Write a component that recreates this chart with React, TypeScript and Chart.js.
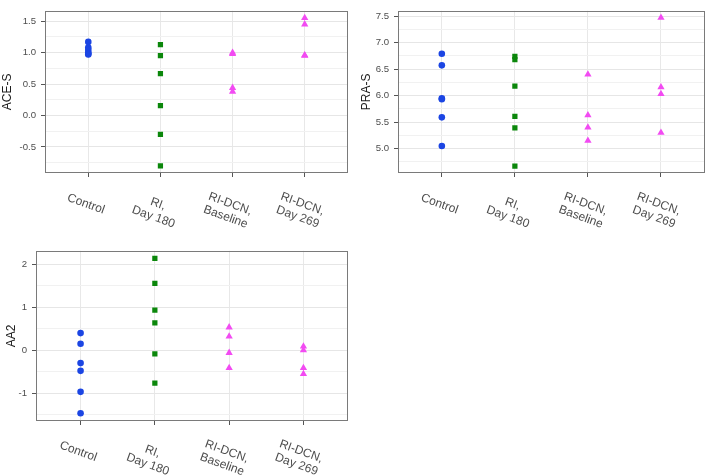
import React, { useEffect, useRef } from 'react';
import { Chart, registerables } from 'chart.js';

Chart.register(...registerables);

// ---------- data ----------
const categories: string[][] = [
  ['Control'],
  ['RI,', 'Day 180'],
  ['RI-DCN,', 'Baseline'],
  ['RI-DCN,', 'Day 269'],
];

// ACE-S
const aceControl = [1.17, 1.08, 1.04, 1.0, 0.98, 0.97];
const aceRI = [1.125, 0.95, 0.665, 0.155, -0.3, -0.8];
const aceBaseline = [1.0, 0.98, 0.44, 0.38];
const aceDay269 = [1.55, 1.45, 0.96, 0.95];
const aceMajor = [-0.5, 0, 0.5, 1, 1.5];
const aceMajorLabels = ['-0.5', '0.0', '0.5', '1.0', '1.5'];
const aceMinor = [-0.75, -0.25, 0.25, 0.75, 1.25];

// PRA-S
const praControl = [6.79, 6.57, 5.95, 5.93, 5.59, 5.05];
const praRI = [6.74, 6.68, 6.18, 5.61, 5.39, 4.67];
const praBaseline = [6.4, 5.63, 5.4, 5.15];
const praDay269 = [7.47, 6.16, 6.03, 5.3];
const praMajor = [5, 5.5, 6, 6.5, 7, 7.5];
const praMajorLabels = ['5.0', '5.5', '6.0', '6.5', '7.0', '7.5'];
const praMinor = [4.75, 5.25, 5.75, 6.25, 6.75, 7.25];

// AA2
const aaControl = [0.4, 0.15, -0.3, -0.48, -0.97, -1.47];
const aaRI = [2.14, 1.56, 0.935, 0.64, -0.085, -0.765];
const aaBaseline = [0.535, 0.32, -0.06, -0.41];
const aaDay269 = [0.09, 0.0, -0.41, -0.55];
const aaMajor = [-1, 0, 1, 2];
const aaMajorLabels = ['-1', '0', '1', '2'];
const aaMinor = [-1.5, -0.5, 0.5, 1.5];

// ---------- styles ----------
const FONT = '"Liberation Sans", Arial, Helvetica, sans-serif';
const groupStyles = [
  { pointStyle: 'circle', radius: 3.3, color: '#1B45E3' },
  { pointStyle: 'rect', radius: 3.7, color: '#0B870B' },
  { pointStyle: 'triangle', radius: 4.2, color: '#F24BF2' },
  { pointStyle: 'triangle', radius: 4.2, color: '#F24BF2' },
];

type PanelDef = {
  title: string;
  groups: number[][];
  min: number;
  max: number;
  major: number[];
  majorLabels: string[];
  minor: number[];
  box: { left: number; top: number; width: number; height: number };
  yWidth: number;
  xHeight: number;
  padTop: number;
  padRight: number;
  titlePad: number;
  labelOffset: number;
};

const panels: PanelDef[] = [
  {
    title: 'ACE-S',
    groups: [aceControl, aceRI, aceBaseline, aceDay269],
    min: -0.915,
    max: 1.665,
    major: aceMajor,
    majorLabels: aceMajorLabels,
    minor: aceMinor,
    box: { left: 0, top: 0, width: 355, height: 240 },
    yWidth: 45,
    xHeight: 67,
    padTop: 2,
    padRight: 7,
    titlePad: 0.6,
    labelOffset: 24.5,
  },
  {
    title: 'PRA-S',
    groups: [praControl, praRI, praBaseline, praDay269],
    min: 4.54,
    max: 7.6,
    major: praMajor,
    majorLabels: praMajorLabels,
    minor: praMinor,
    box: { left: 355, top: 0, width: 354, height: 240 },
    yWidth: 43,
    xHeight: 67,
    padTop: 2,
    padRight: 2,
    titlePad: 4.5,
    labelOffset: 24.5,
  },
  {
    title: 'AA2',
    groups: [aaControl, aaRI, aaBaseline, aaDay269],
    min: -1.65,
    max: 2.32,
    major: aaMajor,
    majorLabels: aaMajorLabels,
    minor: aaMinor,
    box: { left: 0, top: 240, width: 355, height: 236 },
    yWidth: 36,
    xHeight: 55,
    padTop: 8,
    padRight: 7,
    titlePad: 4.1,
    labelOffset: 24,
  },
];

function Panel({ p }: { p: PanelDef }) {
  const ref = useRef<HTMLCanvasElement | null>(null);

  useEffect(() => {
    const canvas = ref.current;
    if (!canvas) return;
    const rad = (20 * Math.PI) / 180;
    const isMajor = (v: number) => p.major.some((m) => Math.abs(m - v) < 1e-9);
    const labelFor = (v: number) => {
      const i = p.major.findIndex((m) => Math.abs(m - v) < 1e-9);
      return i >= 0 ? p.majorLabels[i] : '';
    };

    const decor = {
      id: 'ggDecor',
      afterDatasetsDraw(chart: any) {
        const { ctx, chartArea: a } = chart;
        ctx.save();
        ctx.strokeStyle = '#7a7a7a';
        ctx.lineWidth = 1;
        const l = Math.round(a.left);
        const t = Math.round(a.top);
        const r = Math.round(a.right);
        const b = Math.round(a.bottom);
        ctx.strokeRect(l + 0.5, t + 0.5, r - l - 1, b - t - 1);
        ctx.restore();
      },
      afterDraw(chart: any) {
        const { ctx, chartArea: a } = chart;
        const xs = chart.scales.x;
        ctx.save();
        ctx.font = `12px ${FONT}`;
        ctx.fillStyle = '#4d4d4d';
        ctx.textAlign = 'center';
        ctx.textBaseline = 'middle';
        const lh = 13.8;
        categories.forEach((lines, i) => {
          const ax = xs.getPixelForValue(i);
          const ay = a.bottom + p.labelOffset;
          lines.forEach((line, j) => {
            const d = (j + 0.5) * lh;
            const cx = ax - Math.sin(rad) * d;
            const cy = ay + Math.cos(rad) * d;
            ctx.save();
            ctx.translate(cx, cy);
            ctx.rotate(rad);
            ctx.fillText(line, 0, 0);
            ctx.restore();
          });
        });
        ctx.restore();
      },
    };

    const datasets = p.groups.map((vals, gi) => ({
      label: categories[gi].join(' '),
      data: vals.map((v) => ({ x: gi, y: v })),
      pointStyle: groupStyles[gi].pointStyle as any,
      pointRadius: groupStyles[gi].radius,
      backgroundColor: groupStyles[gi].color,
      borderColor: groupStyles[gi].color,
      borderWidth: 0,
      showLine: false,
    }));

    const chart = new Chart(canvas, {
      type: 'scatter',
      data: { datasets },
      plugins: [decor],
      options: {
        responsive: false,
        animation: false,
        devicePixelRatio: 1,
        layout: { padding: { top: p.padTop, right: p.padRight, left: 0, bottom: 0 } },
        plugins: { legend: { display: false }, tooltip: { enabled: false } },
        scales: {
          x: {
            type: 'linear',
            min: -0.6,
            max: 3.6,
            bounds: 'data',
            afterBuildTicks: (s: any) => {
              s.ticks = categories.map((_, i) => ({ value: i }));
            },
            afterFit: (s: any) => {
              s.height = p.xHeight;
            },
            ticks: { display: false },
            grid: {
              color: '#e8e8e8',
              lineWidth: 1,
              drawTicks: true,
              tickLength: 4,
              tickColor: '#555555',
              tickWidth: 1,
            },
            border: { display: false },
          },
          y: {
            type: 'linear',
            min: p.min,
            max: p.max,
            bounds: 'data',
            afterBuildTicks: (s: any) => {
              s.ticks = [...p.major, ...p.minor].sort((a, b) => a - b).map((v) => ({ value: v }));
            },
            afterFit: (s: any) => {
              s.width = p.yWidth;
            },
            ticks: {
              autoSkip: false,
              padding: 5,
              color: '#4d4d4d',
              font: { family: FONT, size: 9.6 },
              callback: (v: any) => labelFor(Number(v)),
            },
            grid: {
              color: (c: any) => (c.tick && isMajor(c.tick.value) ? '#e6e6e6' : '#f1f1f1'),
              lineWidth: 1,
              drawTicks: true,
              tickLength: 4,
              tickColor: (c: any) => (c.tick && isMajor(c.tick.value) ? '#555555' : 'rgba(0,0,0,0)'),
              tickWidth: 1,
            },
            border: { display: false },
            title: {
              display: true,
              text: p.title,
              color: '#1a1a1a',
              font: { family: FONT, size: 12 },
              padding: { top: p.titlePad, bottom: 0 },
            },
          },
        },
      } as any,
    });
    return () => chart.destroy();
  }, [p]);

  return (
    <canvas
      ref={ref}
      width={p.box.width}
      height={p.box.height}
      style={{
        position: 'absolute',
        left: p.box.left,
        top: p.box.top,
        width: p.box.width,
        height: p.box.height,
      }}
    />
  );
}

export default function App() {
  return (
    <div style={{ position: 'absolute', left: 0, top: 0, width: 709, height: 476, background: '#ffffff' }}>
      {panels.map((p) => (
        <Panel key={p.title} p={p} />
      ))}
    </div>
  );
}
